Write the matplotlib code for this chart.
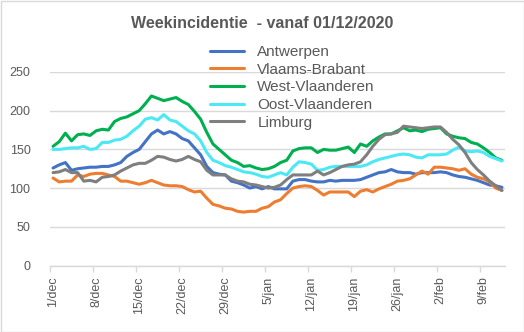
import matplotlib
matplotlib.use("Agg")
import matplotlib.pyplot as plt
from matplotlib.patches import Rectangle
import numpy as np

plt.rcParams['font.family'] = ['Liberation Sans', 'DejaVu Sans']

title = "Weekincidentie  - vanaf 01/12/2020"
tick_labels = ["1/dec", "8/dec", "15/dec", "22/dec", "29/dec", "5/jan",
               "12/jan", "19/jan", "26/jan", "2/feb", "9/feb"]
series_names = ["Antwerpen", "Vlaams-Brabant", "West-Vlaanderen",
                "Oost-Vlaanderen", "Limburg"]

antwerpen = [126, 130, 133, 123, 125, 126, 127, 127, 128, 128, 130, 133, 141, 146,
             150, 160, 170, 175, 170, 173, 170, 164, 161, 152, 143, 128, 120, 118,
             117, 109, 107, 104, 100, 102, 99, 102, 99, 99, 99, 109, 111, 111,
             109, 108, 108, 110, 109, 110, 110, 110, 111, 114, 117, 120, 121, 124,
             121, 120, 120, 118, 120, 120, 120, 121, 120, 117, 115, 114, 112, 110,
             107, 104, 103, 101]
vlaams_brabant = [113, 108, 109, 109, 117, 115, 118, 119, 119, 117, 115, 109, 109, 107,
                  105, 107, 110, 107, 104, 103, 103, 102, 98, 95, 96, 87, 79, 77,
                  74, 73, 70, 69, 70, 70, 74, 76, 82, 85, 93, 100, 102, 103,
                  102, 97, 91, 95, 95, 95, 95, 89, 96, 98, 95, 99, 102, 105,
                  109, 110, 112, 117, 122, 118, 127, 127, 126, 125, 123, 125, 118, 114,
                  112, 108, 100, 97]
west_vlaanderen = [154, 160, 171, 161, 169, 170, 168, 174, 176, 175, 186, 190, 192, 196,
                   200, 209, 219, 216, 213, 215, 217, 212, 208, 199, 189, 172, 157, 150,
                   143, 136, 133, 128, 129, 126, 124, 125, 128, 133, 136, 148, 151, 152,
                   152, 146, 150, 149, 149, 151, 153, 146, 157, 154, 161, 166, 170, 170,
                   174, 178, 174, 175, 173, 176, 177, 178, 170, 167, 165, 164, 159, 157,
                   152, 146, 139, 136]
oost_vlaanderen = [150, 150, 151, 152, 152, 154, 150, 151, 159, 159, 162, 163, 167, 174,
                   180, 189, 191, 188, 195, 188, 186, 180, 174, 170, 161, 146, 136, 133,
                   129, 127, 124, 121, 120, 118, 115, 114, 117, 120, 117, 127, 134, 133,
                   131, 123, 124, 127, 128, 128, 128, 128, 128, 130, 134, 137, 139, 141,
                   143, 144, 143, 140, 139, 143, 143, 143, 144, 149, 153, 148, 147, 148,
                   146, 141, 138, 135]
limburg = [120, 121, 124, 120, 120, 109, 110, 108, 114, 115, 117, 122, 126, 130,
           132, 132, 136, 141, 140, 137, 135, 137, 141, 137, 134, 123, 117, 117,
           117, 112, 109, 108, 105, 104, 102, 100, 101, 104, 111, 117, 117, 117,
           117, 122, 117, 120, 124, 128, 130, 131, 134, 143, 154, 163, 169, 170,
           172, 180, 179, 178, 177, 178, 179, 179, 172, 163, 156, 146, 133, 124,
           117, 109, 103, 97]

colors = ["#4472C4", "#ED7D31", "#00B050", "#4BE8F5", "#7F7F7F"]
text_color = "#595959"
grid_color = "#D9D9D9"

W, H = 524, 332
fig = plt.figure(figsize=(W / 100, H / 100), dpi=100)
ax = fig.add_axes([50 / W, 1 - 265.5 / H, 455 / W, (265.5 - 72) / H])

days = np.arange(len(antwerpen))
all_series = [antwerpen, vlaams_brabant, west_vlaanderen, oost_vlaanderen, limburg]
for name, vals, col in zip(series_names, all_series, colors):
    ax.plot(days, vals, color=col, lw=2.2, label=name, solid_joinstyle='round',
            solid_capstyle='round')

ax.set_xlim(-0.5, len(antwerpen) - 0.5)
ax.set_ylim(0, 250)
ax.set_yticks(np.arange(0, 251, 50))
ax.yaxis.grid(True, color=grid_color, lw=1)
ax.set_axisbelow(True)

for side in ["left", "right", "top"]:
    ax.spines[side].set_visible(False)
ax.spines["bottom"].set_color(grid_color)
ax.spines["bottom"].set_linewidth(1)

label_pos = np.arange(0, len(antwerpen), 7)
ax.set_xticks(label_pos)
ax.set_xticklabels(tick_labels[:len(label_pos)], rotation=90)
ax.set_xticks(np.arange(-0.5, len(antwerpen), 7), minor=True)
ax.tick_params(axis='x', which='major', length=0, pad=8, labelsize=9, labelcolor=text_color)
ax.tick_params(axis='x', which='minor', length=4, color=grid_color, width=1)
ax.tick_params(axis='y', length=0, pad=14, labelsize=9, labelcolor=text_color)

fig.text(262 / W, 1 - 24 / H, title, ha='center', va='center', fontsize=11.5,
         fontweight='bold', color=text_color)

leg = ax.legend(loc='upper left', bbox_to_anchor=(210 / W, 1 - 45 / H),
                bbox_transform=fig.transFigure, frameon=False, fontsize=11,
                handlelength=2.2, handletextpad=0.9, labelspacing=0.24,
                borderpad=0, borderaxespad=0)
for t in leg.get_texts():
    t.set_color(text_color)

fig.patches.append(Rectangle((0.5 / W, 0.5 / H), 1 - 1 / W, 1 - 1 / H,
                             transform=fig.transFigure, fill=False,
                             edgecolor=grid_color, lw=1))

fig.savefig("out.png", dpi=100)
